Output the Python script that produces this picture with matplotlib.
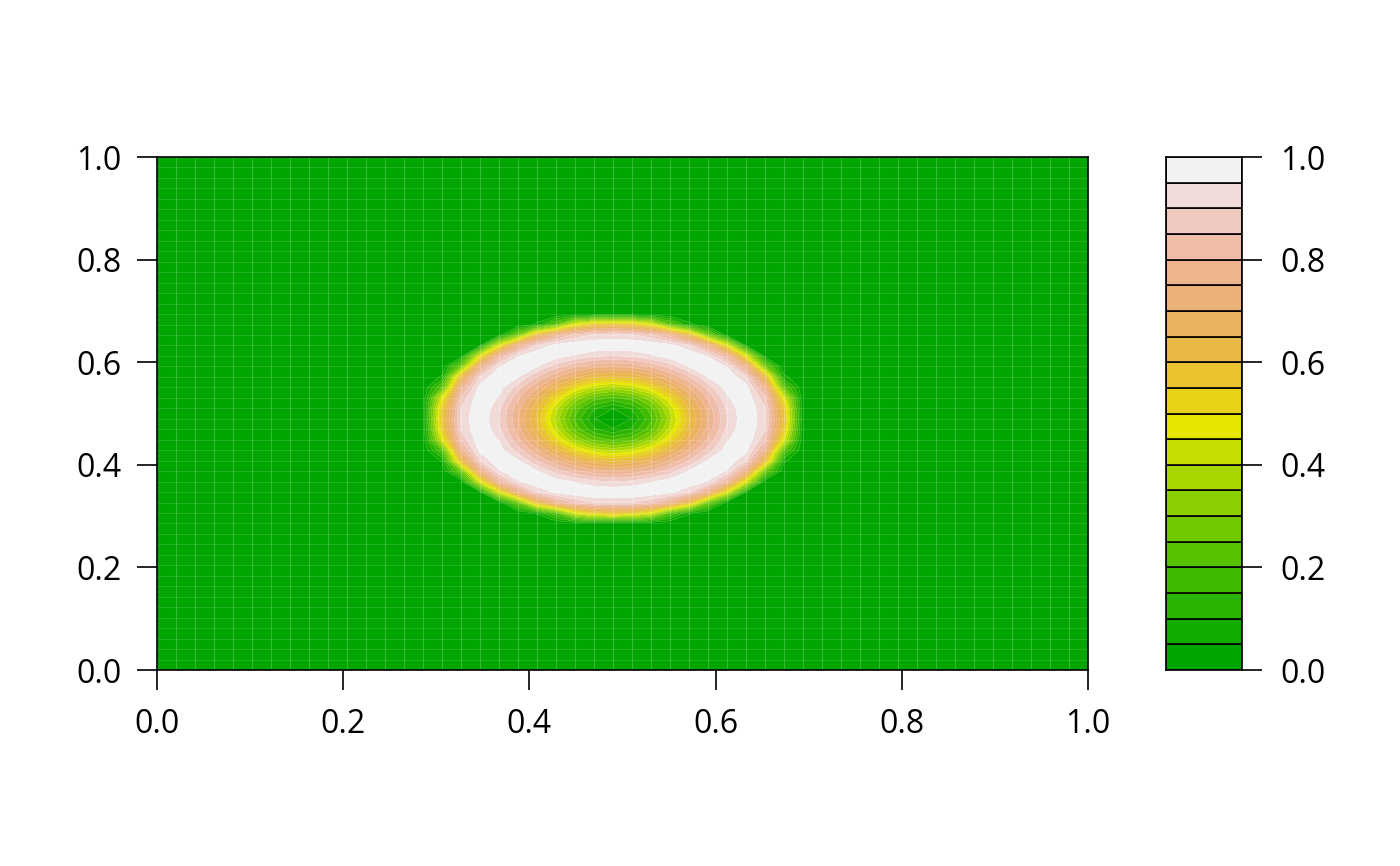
import colorsys
import numpy as np
import matplotlib
matplotlib.use('Agg')
import matplotlib.pyplot as plt

plt.rcParams['font.family'] = ['Open Sans', 'DejaVu Sans']

# grid and ring profile
nx, ny = 50, 50
x = np.linspace(0, 1, nx)
y = np.linspace(0, 1, ny)
center = (0.49, 0.49)
ring_r = [0, 0.02, 0.04, 0.056, 0.065, 0.073, 0.085, 0.100, 0.113, 0.120,
          0.130, 0.145, 0.155, 0.163, 0.172, 0.180, 0.187, 0.195, 0.205, 1.5]
ring_z = [0, 0.05, 0.18, 0.32, 0.42, 0.50, 0.62, 0.74, 0.83, 0.88,
          0.95, 1.00, 0.97, 0.92, 0.82, 0.65, 0.50, 0.15, 0.0, 0.0]
levels = np.linspace(0, 1, 21)
ticks = [0.0, 0.2, 0.4, 0.6, 0.8, 1.0]


def terrain_colors(n):
    # same as R terrain.colors(n)
    k = n // 2
    h1 = np.linspace(4/12, 2/12, k)
    s1 = np.ones(k)
    v1 = np.linspace(0.65, 0.9, k)
    h2 = np.linspace(2/12, 0, n - k + 1)[1:]
    s2 = np.linspace(1, 0, n - k + 1)[1:]
    v2 = np.linspace(0.9, 0.95, n - k + 1)[1:]
    h = np.concatenate([h1, h2]); s = np.concatenate([s1, s2]); v = np.concatenate([v1, v2])
    return [colorsys.hsv_to_rgb(a, b, c) for a, b, c in zip(h, s, v)]


X, Y = np.meshgrid(x, y)
R = np.hypot(X - center[0], Y - center[1])
Z = np.interp(R, ring_r, ring_z)

cols = terrain_colors(len(levels) - 1)

fig = plt.figure(figsize=(14, 8.66), dpi=100)
ax = fig.add_axes([0.1121, 0.2263, 0.665, 0.5924])
ax.contourf(X, Y, Z, levels=levels, colors=cols, extend='neither')
ax.contour(X, Y, Z, levels=levels[1:-1], colors='white', linewidths=0.4, alpha=0.25)
# faint polygon seams at the grid points
ax.vlines(x, 0, 1, colors='white', linewidths=0.8, alpha=0.22)
ax.hlines(y, 0, 1, colors='white', linewidths=0.6, alpha=0.15)
ax.set_xlim(0, 1)
ax.set_ylim(0, 1)
ax.set_xticks(ticks)
ax.set_yticks(ticks)
ax.set_xticklabels(['%.1f' % t for t in ticks])
ax.set_yticklabels(['%.1f' % t for t in ticks])
ax.tick_params(direction='out', length=14.4, width=1.2, labelsize=23, colors='black')
ax.tick_params(axis='x', pad=13)
ax.tick_params(axis='y', pad=11)
for sp in ax.spines.values():
    sp.set_linewidth(1.2)

# key
cax = fig.add_axes([0.8329, 0.2263, 0.0543, 0.5924])
cax.bar(0.5, np.diff(levels), width=1, bottom=levels[:-1], color=cols,
        edgecolor='black', linewidth=1.2)
cax.set_xlim(0, 1)
cax.set_ylim(0, 1)
cax.set_xticks([])
cax.yaxis.tick_right()
cax.set_yticks(ticks)
cax.set_yticklabels(['%.1f' % t for t in ticks])
cax.tick_params(direction='out', length=14.4, width=1.2, labelsize=23, pad=13)
for sp in cax.spines.values():
    sp.set_linewidth(1.2)

fig.savefig('out.png', dpi=100)
